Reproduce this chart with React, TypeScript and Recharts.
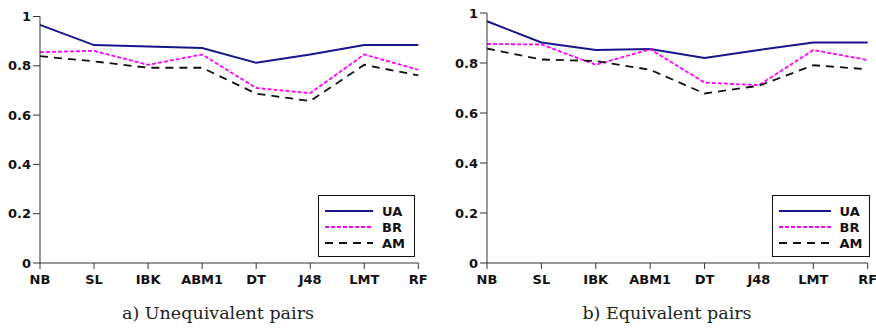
import { LineChart, Line, XAxis, YAxis } from "recharts";

const classifiers = ["NB", "SL", "IBK", "ABM1", "DT", "J48", "LMT", "RF"];
const yTicks = [0, 0.2, 0.4, 0.6, 0.8, 1];

// a) Unequivalent pairs
const uaUneq = [0.966, 0.884, 0.878, 0.872, 0.812, 0.846, 0.884, 0.884];
const brUneq = [0.855, 0.861, 0.804, 0.846, 0.71, 0.689, 0.846, 0.784];
const amUneq = [0.839, 0.818, 0.792, 0.792, 0.687, 0.657, 0.804, 0.761];

// b) Equivalent pairs
const uaEq = [0.967, 0.882, 0.852, 0.856, 0.82, 0.852, 0.882, 0.882];
const brEq = [0.876, 0.874, 0.793, 0.855, 0.722, 0.711, 0.852, 0.812];
const amEq = [0.858, 0.814, 0.808, 0.773, 0.678, 0.709, 0.791, 0.775];

const SERIES = [
  { key: "UA", color: "#16168a", dash: undefined as string | undefined, width: 2 },
  { key: "BR", color: "#ff00ff", dash: "4 2", width: 1.8 },
  { key: "AM", color: "#111111", dash: "8 6", width: 1.8 },
];

const AXIS = "#333";
const tickFont = { fontSize: 13, fontWeight: "bold", fill: "#111", fontFamily: "DejaVu Sans" };

function buildRows(ua: number[], br: number[], am: number[]) {
  return classifiers.map((name, i) => ({ name, UA: ua[i], BR: br[i], AM: am[i] }));
}

interface PanelProps {
  rows: any[];
  left: number;
  width: number;
  top: number;
  right: number;
  legendX: number;
  legendW: number;
  lineW: number;
  caption: string;
  captionX: number;
}

function Panel({ rows, left, width, top, right, legendX, legendW, lineW, caption, captionX }: PanelProps) {
  return (
    <>
      <div style={{ position: "absolute", left, top: 0 }}>
        <LineChart width={width} height={300} data={rows} margin={{ top, right, left: 0, bottom: 7 }}>
          <XAxis
            dataKey="name"
            height={30}
            padding={{ left: 0, right: 0 }}
            interval={0}
            tick={tickFont}
            tickSize={6}
            tickMargin={6}
            stroke={AXIS}
            axisLine={{ stroke: AXIS }}
            tickLine={{ stroke: AXIS }}
          />
          <YAxis
            width={40}
            domain={[0, 1]}
            ticks={yTicks}
            tickFormatter={(v: number) => String(v)}
            tick={tickFont}
            tickSize={7}
            tickMargin={2}
            axisLine={{ stroke: AXIS }}
            tickLine={{ stroke: AXIS }}
          />
          {SERIES.map((s) => (
            <Line
              key={s.key}
              type="linear"
              dataKey={s.key}
              stroke={s.color}
              strokeWidth={s.width}
              strokeDasharray={s.dash}
              dot={false}
              activeDot={false}
              isAnimationActive={false}
            />
          ))}
        </LineChart>
      </div>
      <div
        style={{
          position: "absolute",
          left: legendX,
          top: 195,
          width: legendW,
          height: 60,
          border: "1px solid #111",
          background: "#fff",
          boxSizing: "content-box",
        }}
      >
        {SERIES.map((s, i) => (
          <div key={s.key} style={{ position: "absolute", left: 6, top: 7 + i * 16, height: 16, display: "flex", alignItems: "center" }}>
            <svg width={lineW} height={16} style={{ display: "block" }}>
              <line x1={0} y1={8} x2={lineW} y2={8} stroke={s.color} strokeWidth={s.width} strokeDasharray={s.dash} />
            </svg>
            <span style={{ marginLeft: 9, fontFamily: "DejaVu Sans", fontWeight: 700, fontSize: 13, color: "#111" }}>{s.key}</span>
          </div>
        ))}
      </div>
      <div
        style={{
          position: "absolute",
          left: captionX - 150,
          width: 300,
          top: 303,
          textAlign: "center",
          fontFamily: "DejaVu Serif",
          fontSize: 17.5,
          color: "#222",
        }}
      >
        {caption}
      </div>
    </>
  );
}

export default function App() {
  return (
    <div style={{ position: "absolute", left: 0, top: 0, width: 876, height: 328, background: "#fff", overflow: "hidden" }}>
      <Panel
        rows={buildRows(uaUneq, brUneq, amUneq)}
        left={0}
        width={440}
        top={16.5}
        right={21.7}
        legendX={318}
        legendW={95}
        lineW={48}
        caption="a) Unequivalent pairs"
        captionX={218}
      />
      <Panel
        rows={buildRows(uaEq, brEq, amEq)}
        left={447.3}
        width={428.7}
        top={13}
        right={8}
        legendX={771.5}
        legendW={96}
        lineW={52}
        caption="b) Equivalent pairs"
        captionX={667}
      />
    </div>
  );
}
